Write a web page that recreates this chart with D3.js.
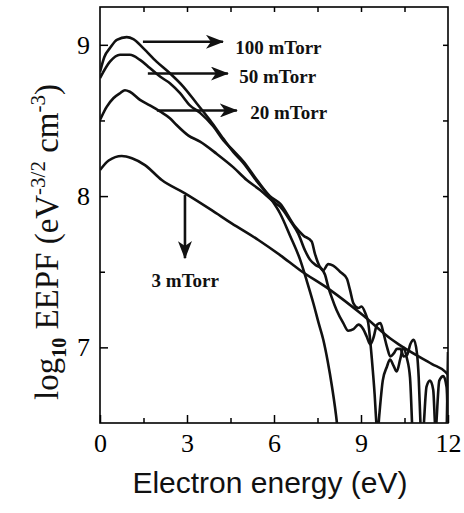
<!DOCTYPE html>
<html>
<head>
<meta charset="utf-8">
<script src="https://cdn.jsdelivr.net/npm/d3@7/dist/d3.min.js"></script>
<style>
    body { margin: 0; background: #fff; }
    svg { display: block; }
    .axis .tick text { font-family: "Liberation Serif", "Times New Roman", serif; font-size: 26px; fill: #000; }
    .axis .tick line { stroke: #000; stroke-width: 1.5; }
    .curve { fill: none; stroke: #111; stroke-width: 2.6; stroke-linejoin: round; }
    .note { font-family: "Liberation Serif", "Times New Roman", serif; font-size: 19px; font-weight: bold; fill: #111; }
</style>
</head>
<body>
<svg id="chart"></svg>
<script>
// values (energy in eV, log10 EEPF)
const energy100 = [0, 0.15, 0.35, 0.58, 0.92, 1.15, 1.49, 1.95, 2.41, 2.87, 3.33, 3.79, 4.25, 4.6, 4.94, 5.4, 5.86, 6.21, 6.55, 6.9, 7.13, 7.36, 7.54, 7.7, 7.85, 8.0, 8.17, 8.35, 11.9, 11.96, 12];
const eepf100 = [8.82, 8.92, 8.98, 9.033, 9.051, 9.038, 8.978, 8.889, 8.812, 8.724, 8.614, 8.503, 8.38, 8.29, 8.22, 8.1, 7.99, 7.885, 7.74, 7.58, 7.44, 7.29, 7.16, 7.05, 6.91, 6.74, 6.5, 6.1, 6.1, 6.5, 6.97];

const energy50 = [0, 0.35, 0.69, 1.03, 1.38, 1.72, 2.07, 2.41, 2.76, 3.1, 3.45, 3.91, 4.25, 4.6, 4.94, 5.4, 5.86, 6.21, 6.72, 7.01, 7.3, 7.41, 7.59, 7.7, 7.87, 8.04, 8.28, 8.51, 8.62, 8.74, 8.91, 9.02, 9.14, 9.25, 9.38, 9.47, 9.53, 9.57, 9.63, 9.75, 9.89, 10.0, 10.12, 10.23, 10.35, 10.46, 10.58, 10.69, 10.76, 10.82, 11.5, 11.6, 11.7, 11.84, 11.95, 12];
const eepf50 = [8.78, 8.89, 8.934, 8.934, 8.9, 8.846, 8.79, 8.746, 8.68, 8.6, 8.55, 8.46, 8.37, 8.3, 8.23, 8.11, 8.0, 7.95, 7.8, 7.74, 7.7, 7.62, 7.53, 7.51, 7.55, 7.54, 7.5, 7.455, 7.38, 7.29, 7.26, 7.27, 7.23, 7.16, 6.91, 6.69, 6.5, 6.42, 6.55, 6.78, 6.87, 6.92, 6.88, 6.84, 6.92, 7.0, 6.93, 6.8, 6.5, 6.2, 6.2, 6.5, 6.78, 6.81, 6.74, 6.5];

const energy20 = [0, 0.23, 0.46, 0.69, 0.86, 1.03, 1.38, 1.72, 2.07, 2.41, 2.64, 3.05, 3.45, 4.02, 4.6, 5.06, 5.52, 6.0, 6.21, 6.55, 6.84, 7.07, 7.24, 7.47, 7.64, 7.76, 7.87, 7.99, 8.16, 8.39, 8.56, 8.74, 8.91, 9.08, 9.2, 9.32, 9.44, 9.55, 9.67, 9.78, 9.9, 10.01, 10.13, 10.24, 10.36, 10.47, 10.59, 10.7, 10.82, 10.93, 10.99, 11.05, 11.11, 11.17, 11.26, 11.38, 11.49, 11.55, 11.62];
const eepf20 = [8.503, 8.59, 8.647, 8.68, 8.7, 8.69, 8.636, 8.6, 8.56, 8.515, 8.47, 8.4, 8.36, 8.28, 8.19, 8.106, 8.04, 7.96, 7.93, 7.84, 7.75, 7.64, 7.58, 7.54, 7.52, 7.48, 7.4, 7.33, 7.245, 7.16, 7.11, 7.12, 7.15, 7.12, 7.07, 7.02, 7.07, 7.15, 7.16, 7.09, 7.0, 6.94, 6.96, 6.99, 6.99, 6.94, 6.95, 7.02, 7.05, 6.96, 6.8, 6.5, 6.3, 6.5, 6.74, 6.78, 6.72, 6.5, 6.3];

const energy3 = [0, 0.3, 0.75, 1.1, 1.55, 2.13, 2.93, 3.85, 4.54, 5.46, 6.21, 6.9, 7.93, 9.08, 10.0, 10.3, 11.45, 11.9, 12];
const eepf3 = [8.172, 8.235, 8.265, 8.25, 8.205, 8.106, 8.018, 7.907, 7.82, 7.71, 7.61, 7.51, 7.38, 7.21, 7.06, 7.02, 6.89, 6.84, 6.82];

const xDomain = [0, 12];
const yDomain = [6.5, 9.25];
const xMajorTicks = [0, 3, 6, 9, 12];
const xMinorTicks = [1.5, 4.5, 7.5, 10.5];
const yMajorTicks = [7, 8, 9];
const yMinorTicks = [7.5, 8.5];
const pressureLabels = ['100 mTorr', '50 mTorr', '20 mTorr', '3 mTorr'];

const config = {
    containerWidth: 464,
    containerHeight: 513,
    margin: {top: 7, right: 16, bottom: 90, left: 100}
};
config.width = config.containerWidth - config.margin.left - config.margin.right;
config.height = config.containerHeight - config.margin.top - config.margin.bottom;

const svg = d3.select('#chart')
    .attr('width', config.containerWidth)
    .attr('height', config.containerHeight);

const defs = svg.append('defs');
defs.append('clipPath').attr('id', 'plot-clip')
    .append('rect')
    .attr('width', config.width)
    .attr('height', config.height);

// notched arrow head
defs.append('marker')
    .attr('id', 'arrow')
    .attr('viewBox', '0 0 18 14')
    .attr('refX', 17)
    .attr('refY', 7)
    .attr('markerWidth', 18)
    .attr('markerHeight', 14)
    .attr('markerUnits', 'userSpaceOnUse')
    .attr('orient', 'auto')
    .append('path')
    .attr('d', 'M0,0 L18,7 L0,14 L5,7 Z')
    .attr('fill', '#111');

const chartArea = svg.append('g')
    .attr('transform', `translate(${config.margin.left},${config.margin.top})`);

const xScale = d3.scaleLinear().domain(xDomain).range([0, config.width]);
const yScale = d3.scaleLinear().domain(yDomain).range([config.height, 0]);

// bottom / left axes with inward ticks
const xAxis = d3.axisBottom(xScale).tickValues(xMajorTicks).tickSize(-8).tickPadding(11).tickFormat(d3.format('d'));
const xAxisMinor = d3.axisBottom(xScale).tickValues(xMinorTicks).tickSize(-5).tickFormat('');
const yAxis = d3.axisLeft(yScale).tickValues(yMajorTicks).tickSize(-8).tickPadding(10).tickFormat(d3.format('d'));
const yAxisMinor = d3.axisLeft(yScale).tickValues(yMinorTicks).tickSize(-5).tickFormat('');
const xAxisTop = d3.axisTop(xScale).tickValues(xMinorTicks.concat(xMajorTicks.slice(1, -1))).tickSize(-5).tickFormat('');
const yAxisRight = d3.axisRight(yScale).tickValues(yMinorTicks.concat(yMajorTicks)).tickSize(-5).tickFormat('');

chartArea.append('g').attr('class', 'axis').attr('transform', `translate(0,${config.height})`).call(xAxis);
chartArea.append('g').attr('class', 'axis').attr('transform', `translate(0,${config.height})`).call(xAxisMinor);
chartArea.append('g').attr('class', 'axis').call(yAxis);
chartArea.append('g').attr('class', 'axis').call(yAxisMinor);
chartArea.append('g').attr('class', 'axis').call(xAxisTop);
chartArea.append('g').attr('class', 'axis').attr('transform', `translate(${config.width},0)`).call(yAxisRight);
chartArea.selectAll('.domain').remove();

chartArea.append('rect')
    .attr('width', config.width)
    .attr('height', config.height)
    .attr('fill', 'none')
    .attr('stroke', '#000')
    .attr('stroke-width', 1.6);

// curves
const series = [
    {energy: energy100, eepf: eepf100},
    {energy: energy50, eepf: eepf50},
    {energy: energy20, eepf: eepf20},
    {energy: energy3, eepf: eepf3}
];

const line = d3.line()
    .x(d => xScale(d[0]))
    .y(d => yScale(d[1]))
    .curve(d3.curveMonotoneX);

chartArea.append('g')
    .attr('clip-path', 'url(#plot-clip)')
    .selectAll('.curve')
    .data(series)
    .join('path')
    .attr('class', 'curve')
    .attr('d', s => line(s.energy.map((e, i) => [e, s.eepf[i]])));

// pressure annotations
const arrows = [
    {x1: 1.48, y1: 9.02, x2: 4.24, y2: 9.02},
    {x1: 1.65, y1: 8.81, x2: 4.41, y2: 8.81},
    {x1: 1.96, y1: 8.566, x2: 4.72, y2: 8.566},
    {x1: 2.93, y1: 8.007, x2: 2.93, y2: 7.59}
];
chartArea.selectAll('.arrow')
    .data(arrows)
    .join('line')
    .attr('class', 'arrow')
    .attr('x1', d => xScale(d.x1))
    .attr('y1', d => yScale(d.y1))
    .attr('x2', d => xScale(d.x2))
    .attr('y2', d => yScale(d.y2))
    .attr('stroke', '#111')
    .attr('stroke-width', 2.6)
    .attr('marker-end', 'url(#arrow)');

const notes = [
    {x: 4.66, y: 8.94},
    {x: 4.8, y: 8.745},
    {x: 5.18, y: 8.51},
    {x: 1.78, y: 7.40}
];
chartArea.selectAll('.note')
    .data(notes)
    .join('text')
    .attr('class', 'note')
    .attr('x', d => xScale(d.x))
    .attr('y', d => yScale(d.y))
    .text((d, i) => pressureLabels[i]);

// axis titles
const yTitle = svg.append('text')
    .attr('transform', 'translate(58,242) rotate(-90)')
    .attr('text-anchor', 'middle')
    .attr('font-family', '"Liberation Serif", "Times New Roman", serif')
    .attr('font-size', 33)
    .attr('fill', '#111');
yTitle.append('tspan').text('log');
yTitle.append('tspan').attr('dy', 8).attr('font-size', 20).attr('font-weight', 'bold').text('10');
yTitle.append('tspan').attr('dy', -8).text('\u00a0EEPF (eV');
yTitle.append('tspan').attr('dy', -13).attr('font-size', 21).text('-3/2');
yTitle.append('tspan').attr('dy', 13).text(' cm');
yTitle.append('tspan').attr('dy', -13).attr('font-size', 21).text('-3');
yTitle.append('tspan').attr('dy', 13).text(')');

svg.append('text')
    .attr('x', 270)
    .attr('y', 493)
    .attr('text-anchor', 'middle')
    .attr('font-family', '"Liberation Sans", Arial, sans-serif')
    .attr('font-size', 30)
    .attr('fill', '#111')
    .text('Electron energy (eV)');
</script>
</body>
</html>
